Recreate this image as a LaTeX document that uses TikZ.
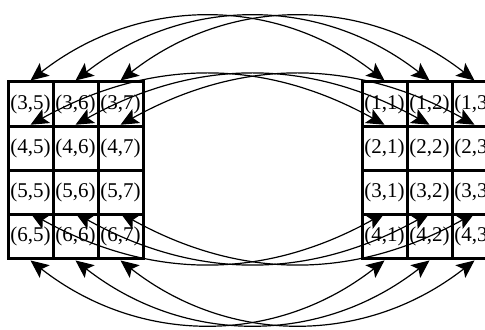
\documentclass[tikz,border=0pt]{standalone}
\usepackage{fontspec}
\setmainfont{Liberation Serif}
\usetikzlibrary{arrows.meta}
\begin{document}
\begin{tikzpicture}[x=0.5pt,y=0.5pt,
  cell/.style={draw, line width=1.5pt, minimum width=22.5pt, minimum height=22.1pt, inner sep=0pt, font=\fontsize{10.5}{12}\selectfont},
  arc/.style={line width=0.6pt, {Stealth[length=9pt,width=8pt,inset=2pt]}-{Stealth[length=9pt,width=8pt,inset=2pt]}}]
  \clip (0,0) rectangle (485,-330);
  \foreach \r in {3,...,6} \foreach \c in {5,6,7}
    \node[cell] (L\r\c) at ({30.5+45*(\c-5)},{-104.1-44.25*(\r-3)}) {(\r,\c)};
  \foreach \r in {1,...,4} \foreach \c in {1,2,3}
    \node[cell] (R\r\c) at ({384.5+45*(\c-1)},{-104.1-44.25*(\r-1)}) {(\r,\c)};
  \foreach \j/\k in {5/1,6/2,7/3} {
    \draw[arc] (L3\j.north) to[out=38,in=142] (R1\k.north);
    \draw[arc] (L4\j.north) to[out=29,in=151] (R2\k.north);
    \draw[arc] (L6\j.north) to[out=-29,in=-151] (R4\k.north);
    \draw[arc] (L6\j.south) to[out=-38,in=-142] (R4\k.south);
  }
\end{tikzpicture}
\end{document}
